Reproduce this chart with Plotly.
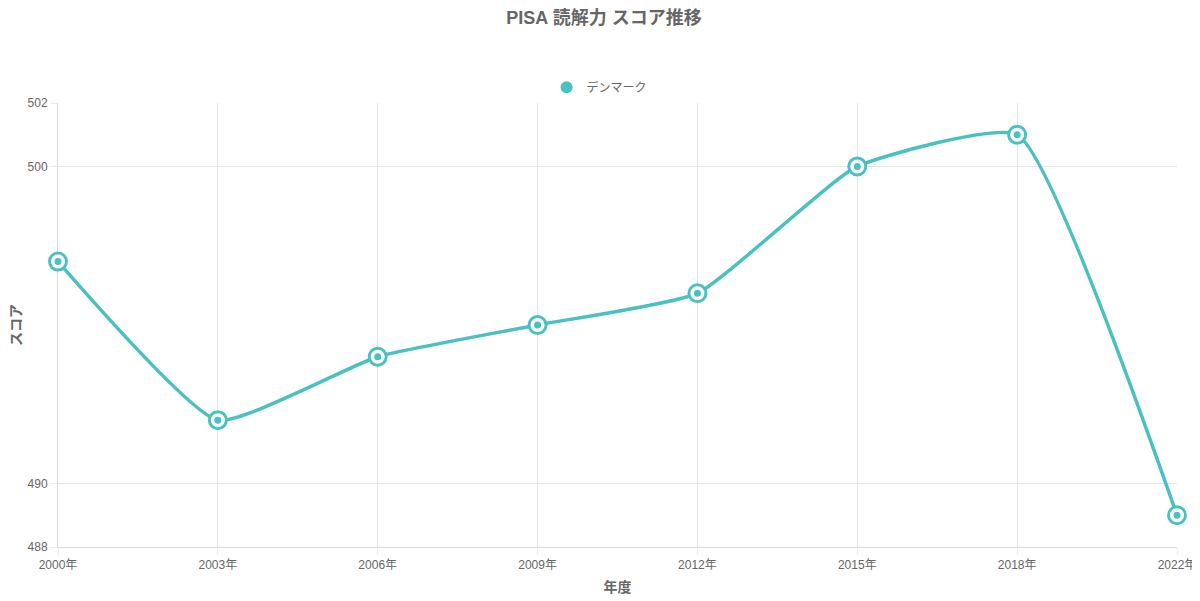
import plotly.graph_objects as go

# PISA 読解力 - デンマーク
years = ["2000年", "2003年", "2006年", "2009年", "2012年", "2015年", "2018年", "2022年"]
scores = [497, 492, 494, 495, 496, 500, 501, 489]
y_ticks = [488, 490, 500, 502]

teal = "rgb(75,192,192)"
grey = "#666666"
font_family = "Liberation Sans, Arial, Noto Sans CJK JP, sans-serif"

fig = go.Figure()

# 線
fig.add_trace(go.Scatter(
    x=years, y=scores, mode="lines",
    line=dict(color=teal, width=3.5, shape="spline", smoothing=0.45),
    showlegend=False, hoverinfo="skip", cliponaxis=False,
))
# 白抜きの丸
fig.add_trace(go.Scatter(
    x=years, y=scores, mode="markers",
    marker=dict(size=17, color="white", line=dict(color=teal, width=3)),
    showlegend=False, hoverinfo="skip", cliponaxis=False,
))
# 中心の点
fig.add_trace(go.Scatter(
    x=years, y=scores, mode="markers", name="デンマーク",
    marker=dict(size=7, color=teal),
    showlegend=False, cliponaxis=False,
))
# 凡例用
fig.add_trace(go.Scatter(
    x=[None], y=[None], mode="markers", name="デンマーク",
    marker=dict(size=13, color=teal),
))

# ページ本文の余白 (8px) を差し引いたサイズ
fig.update_layout(
    width=1192, height=593,
    paper_bgcolor="white", plot_bgcolor="white",
    font=dict(family=font_family, size=12, color=grey),
    title=dict(text="<b>PISA 読解力 スコア推移</b>", x=0.5, xanchor="center",
               y=0.983, yanchor="middle", font=dict(size=18, color=grey)),
    legend=dict(orientation="h", x=0.484, xanchor="center", y=1.003, yanchor="bottom",
                font=dict(size=12, color=grey), itemsizing="constant"),
    margin=dict(l=50, r=23, t=95, b=54),
)
fig.update_xaxes(
    type="category", range=[0, len(years) - 1], automargin=False,
    showgrid=True, gridcolor="#e5e5e5", gridwidth=1,
    showline=True, linecolor="#d9d9d9", linewidth=1, layer="below traces",
    ticks="outside", ticklen=7, tickcolor="#eeeeee",
    tickfont=dict(size=12, color=grey),
    title=dict(text="<b>年度</b>", font=dict(size=14, color=grey), standoff=10),
    zeroline=False,
)
fig.update_yaxes(
    range=[488, 502], tickvals=y_ticks, automargin=False,
    showgrid=True, gridcolor="#e5e5e5", gridwidth=1,
    showline=True, linecolor="#d9d9d9", linewidth=1, layer="below traces",
    ticks="outside", ticklen=7, tickcolor="#eeeeee",
    tickfont=dict(size=12, color=grey),
    title=dict(text="<b>スコア</b>", font=dict(size=14, color=grey), standoff=6),
    zeroline=False,
)

fig.write_html("out.html")
